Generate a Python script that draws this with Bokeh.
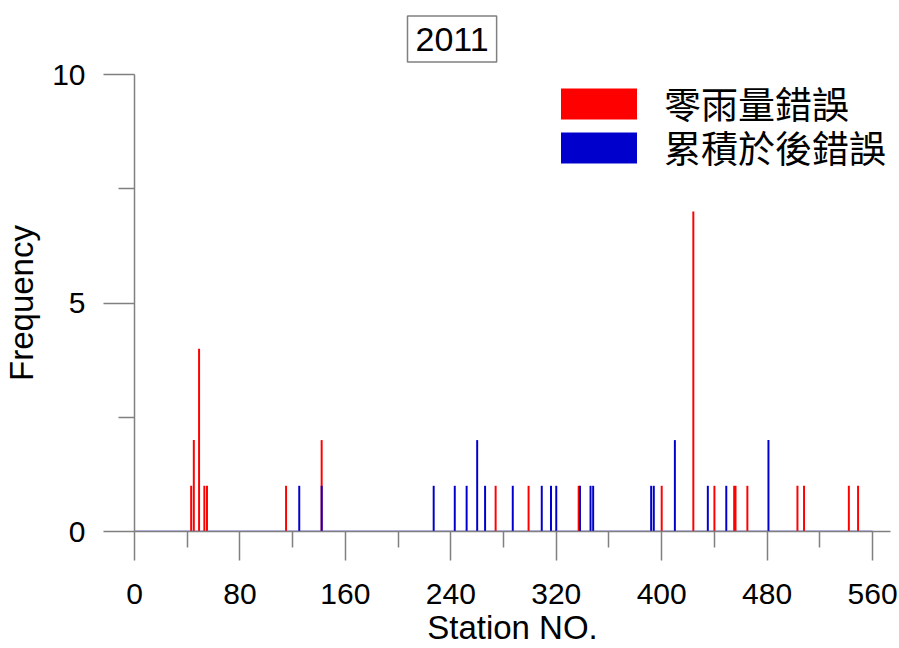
from bokeh.plotting import figure
from bokeh.models import Range1d, FixedTicker, Legend, LegendItem, ColumnDataSource, Title
from bokeh.embed import file_html
from bokeh.resources import INLINE

# ---- data ----
year_title = "2011"
red_label = "零雨量錯誤"
blue_label = "累積於後錯誤"
x_label = "Station NO."
y_label = "Frequency"

red_stations = [43, 45, 49, 53, 55, 115, 142, 274, 299, 337, 400, 424, 440, 455, 456, 465, 503, 508, 542, 549]
red_counts   = [1, 2, 4, 1, 1, 1, 2, 1, 1, 1, 1, 7, 1, 1, 1, 1, 1, 1, 1, 1]

blue_stations = [125, 142, 227, 243, 252, 260, 266, 287, 309, 316, 320, 338, 346, 348, 392, 394, 410, 435, 449, 481]
blue_counts   = [1, 1, 1, 1, 1, 2, 1, 1, 1, 1, 1, 1, 1, 1, 1, 1, 2, 1, 1, 2]

station_span = [0, 560]
x_ticks = [0, 80, 160, 240, 320, 400, 480, 560]
x_minor = [40, 120, 200, 280, 360, 440, 520]
y_ticks = [0, 5, 10]
y_minor = [2.5, 7.5]

RED = "#ff0000"
BLUE = "#0000cc"
AXIS = "#808080"
FONT = "Liberation Sans"
CJK = "Noto Sans CJK TC"

p = figure(width=899, height=648, output_backend="svg", toolbar_location=None,
           x_range=Range1d(0, 573.6), y_range=Range1d(0, 10),
           min_border_left=134, min_border_right=9, min_border_top=74, min_border_bottom=117)
p.outline_line_color = None
p.xgrid.visible = False
p.ygrid.visible = False
p.background_fill_color = "white"
p.border_fill_color = "white"

# baseline along zero
p.line(x=station_span, y=[0, 0], line_color=BLUE, line_width=1.5)

red_src = ColumnDataSource(dict(x=red_stations, y=red_counts))
blue_src = ColumnDataSource(dict(x=blue_stations, y=blue_counts))
r_red = p.vbar(x="x", top="y", bottom=0, width=1.5, source=red_src, fill_color=RED, line_color=None)
r_blue = p.vbar(x="x", top="y", bottom=0, width=1.5, source=blue_src, fill_color=BLUE, line_color=None)

# axes
for ax in (p.xaxis[0], p.yaxis[0]):
    ax.axis_line_color = AXIS
    ax.axis_line_width = 1.5
    ax.major_tick_line_color = AXIS
    ax.minor_tick_line_color = AXIS
    ax.major_tick_line_width = 1.5
    ax.minor_tick_line_width = 1.5
    ax.major_tick_in = 0
    ax.minor_tick_in = 0
    ax.major_label_text_font = FONT
    ax.major_label_text_font_size = "30px"
    ax.major_label_text_color = "black"
    ax.axis_label_text_font = FONT
    ax.axis_label_text_font_size = "33px"
    ax.axis_label_text_font_style = "normal"
    ax.axis_label_text_color = "black"

p.xaxis.ticker = FixedTicker(ticks=x_ticks, minor_ticks=x_minor)
p.yaxis.ticker = FixedTicker(ticks=y_ticks, minor_ticks=y_minor)
p.xaxis.major_tick_out = 29
p.xaxis.minor_tick_out = 16
p.yaxis.major_tick_out = 31
p.yaxis.minor_tick_out = 16
p.xaxis.major_label_standoff = 23
p.yaxis.major_label_standoff = 18
p.xaxis.axis_label = x_label
p.yaxis.axis_label = y_label
p.xaxis.axis_label_standoff = 2
p.yaxis.axis_label_standoff = 9

# title in a box
p.add_layout(Title(text=year_title, align="left", offset=273, standoff=25,
                   text_font=FONT, text_font_size="34px", text_font_style="normal",
                   text_color="black", border_line_color=AXIS, border_line_width=1.5,
                   background_fill_color="white",
                   padding=dict(left=8, right=8, top=12, bottom=11)), "above")

# legend: one box per entry so the rows can sit where the reference has them
common = dict(glyph_width=95, glyph_height=39, label_standoff=18, label_text_font=CJK,
              label_text_font_size="37px", label_text_color="black", padding=0, margin=0,
              border_line_color=None, background_fill_alpha=0)
p.add_layout(Legend(items=[LegendItem(label=red_label, renderers=[r_red])],
                    location=(417, 401), **common))
p.add_layout(Legend(items=[LegendItem(label=blue_label, renderers=[r_blue])],
                    location=(417, 357), **common))

open("out.html", "w").write(file_html(p, INLINE))
